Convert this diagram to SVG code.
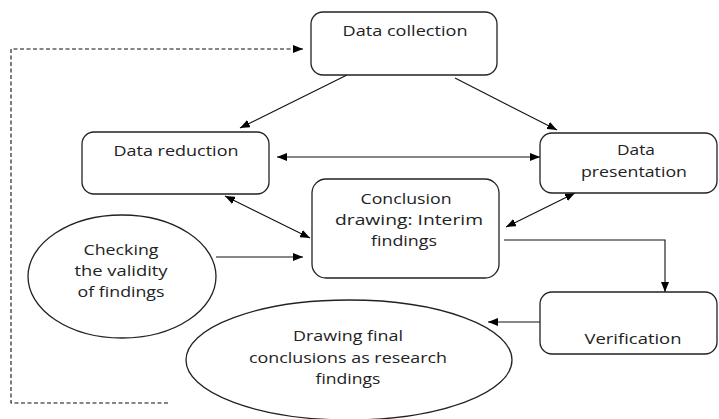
<svg xmlns="http://www.w3.org/2000/svg" width="719" height="419" viewBox="0 0 719 419">
<defs>
<marker id="arr" viewBox="0 0 10 8" refX="10" refY="4" markerWidth="10" markerHeight="8" markerUnits="userSpaceOnUse" orient="auto-start-reverse">
<path d="M0,0 L10,4 L0,8 z" fill="#000"/>
</marker>
<style>
.box{fill:#fff;stroke:#222;stroke-width:1.3}
.t{font-family:"Open Sans","Liberation Sans",sans-serif;font-size:15px;fill:#222;text-anchor:middle}
.c{fill:none;stroke:#111;stroke-width:1.1}
.d{fill:none;stroke:#111;stroke-width:1.1;stroke-dasharray:4 2.5}
</style>
</defs>
<rect width="719" height="419" fill="#fff"/>
<g id="connectors">
<line class="c" x1="347" y1="75" x2="240" y2="128" marker-end="url(#arr)"/>
<line class="c" x1="455" y1="78" x2="557" y2="130" marker-end="url(#arr)"/>
<line class="c" x1="277" y1="157" x2="540" y2="157" marker-start="url(#arr)" marker-end="url(#arr)"/>
<line class="c" x1="225" y1="196" x2="310" y2="238" marker-start="url(#arr)" marker-end="url(#arr)"/>
<line class="c" x1="575" y1="193" x2="506" y2="227" marker-start="url(#arr)" marker-end="url(#arr)"/>
<line class="c" x1="216" y1="257" x2="303" y2="257" marker-end="url(#arr)"/>
<polyline class="c" points="504,240 665,240 665,292" marker-end="url(#arr)"/>
<line class="c" x1="540" y1="322" x2="488" y2="322" marker-end="url(#arr)"/>
<polyline class="d" points="168,403 11,403 11,49 303,49" marker-end="url(#arr)"/>
</g>
<g id="data-collection">
<rect class="box" x="311" y="12" width="186" height="63" rx="12"/>
<text class="t" x="405" y="36" textLength="125" lengthAdjust="spacingAndGlyphs">Data collection</text>
</g>
<g id="data-reduction">
<rect class="box" x="82" y="132" width="187" height="62" rx="12"/>
<text class="t" x="176" y="156" textLength="125" lengthAdjust="spacingAndGlyphs">Data reduction</text>
</g>
<g id="data-presentation">
<rect class="box" x="540" y="133" width="177" height="60" rx="12"/>
<text class="t" x="636" y="155" textLength="38" lengthAdjust="spacingAndGlyphs">Data</text>
<text class="t" x="634" y="177" textLength="106" lengthAdjust="spacingAndGlyphs">presentation</text>
</g>
<g id="conclusion-drawing">
<rect class="box" x="312" y="179" width="187" height="99" rx="14"/>
<text class="t" x="406" y="204" textLength="91" lengthAdjust="spacingAndGlyphs">Conclusion</text>
<text class="t" x="409" y="225" textLength="148" lengthAdjust="spacingAndGlyphs">drawing: Interim</text>
<text class="t" x="404" y="246" textLength="66" lengthAdjust="spacingAndGlyphs">findings</text>
</g>
<g id="checking-validity">
<ellipse class="box" cx="122" cy="276.5" rx="94" ry="61.5"/>
<text class="t" x="121" y="255" textLength="75" lengthAdjust="spacingAndGlyphs">Checking</text>
<text class="t" x="121" y="276" textLength="93" lengthAdjust="spacingAndGlyphs">the validity</text>
<text class="t" x="121" y="297" textLength="87" lengthAdjust="spacingAndGlyphs">of findings</text>
</g>
<g id="verification">
<rect class="box" x="540" y="292" width="177" height="62" rx="12"/>
<text class="t" x="633" y="344" textLength="97" lengthAdjust="spacingAndGlyphs">Verification</text>
</g>
<g id="final-conclusions">
<ellipse class="box" cx="349" cy="360" rx="163" ry="60"/>
<text class="t" x="348" y="341" textLength="110" lengthAdjust="spacingAndGlyphs">Drawing final</text>
<text class="t" x="348" y="363" textLength="198" lengthAdjust="spacingAndGlyphs">conclusions as research</text>
<text class="t" x="348" y="384" textLength="65" lengthAdjust="spacingAndGlyphs">findings</text>
</g>
</svg>
